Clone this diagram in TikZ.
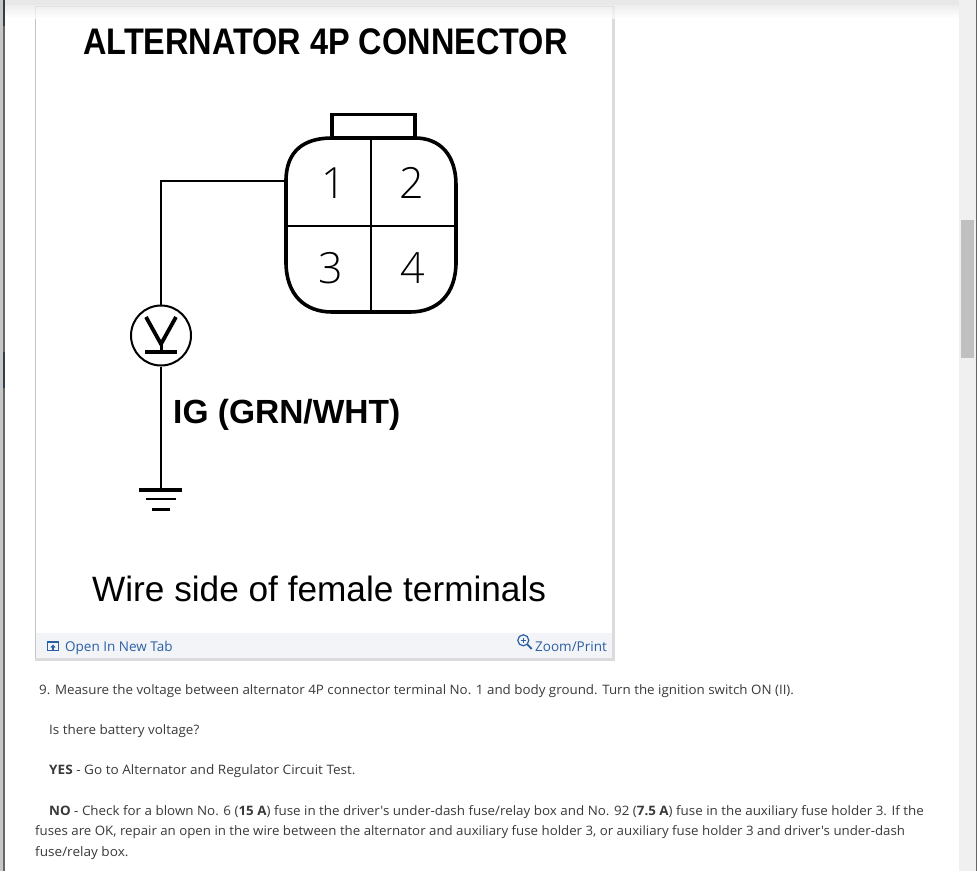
\documentclass[tikz,border=0pt]{standalone}
\usepackage{fontspec}
\setmainfont{Liberation Sans}
\newfontfamily\bodyf{Open Sans}
\newfontfamily\thinf{Open Sans Light}
\definecolor{bodytxt}{HTML}{3A3A3A}
\definecolor{linkblue}{HTML}{2A5FA5}
\definecolor{footbg}{HTML}{F3F4F8}
\definecolor{panelbd}{HTML}{C4C4C4}
\definecolor{sidedark}{HTML}{2D3E4F}
\definecolor{trackgrey}{HTML}{F0F0F0}
\definecolor{thumbgrey}{HTML}{C0C0C0}
\tikzset{
  wire/.style={draw=black,line width=2pt},
  shell/.style={draw=black,line width=3.6pt},
  title/.style={anchor=base west,inner sep=0pt,font=\fontsize{37}{37}\selectfont\bfseries,text=black},
  pin/.style={anchor=center,inner sep=0pt,font=\thinf\fontsize{43}{43}\selectfont,text=black},
  para/.style={anchor=base west,inner sep=0pt,font=\bodyf\fontsize{13}{13}\selectfont,text=bodytxt},
  foot/.style={anchor=base west,inner sep=0pt,font=\bodyf\fontsize{13.5}{13.5}\selectfont,text=linkblue}
}
\begin{document}
\begin{tikzpicture}[x=1pt,y=-1pt]
\useasboundingbox (0,0) rectangle (977,871);
\fill[white] (0,0) rectangle (977,871);
% panel
\fill[black!14] (35,6) rectangle (614.5,661);
\fill[white] (36,7) rectangle (612,658);
\fill[footbg] (36,633) rectangle (612,658);
\fill[panelbd] (35,6) rectangle (36,658);
\fill[panelbd] (35,6) rectangle (613,7);
% chrome
\fill[black!9] (5,0) rectangle (959,5);
\shade[top color=black!9,bottom color=white,opacity=.75] (5,5) rectangle (959,18);
\fill[black!22] (0,0) rectangle (3,871);
\fill[black!60] (3,0) rectangle (5,871);
\fill[sidedark] (3,0) rectangle (5,26);
\fill[sidedark] (3,352) rectangle (5,388);
\fill[trackgrey] (959,0) rectangle (976,871);
\fill[thumbgrey] (961,220) rectangle (974,358);
\fill[black!60] (976,0) rectangle (977,871);
% connector
\draw[shell] (332,138) -- (332,114.5) -- (415,114.5) -- (415,138);
\draw[shell] (286,181) .. controls (286,150) and (305,138) .. (332,138) -- (415,138)
  .. controls (440,138) and (456,155) .. (456,185) -- (456,262)
  .. controls (456,295) and (437,312) .. (410,312) -- (332,312)
  .. controls (305,312) and (286,295) .. (286,262) -- cycle;
\coordinate (top) at (371,138);
\coordinate (bot) at (371,312);
\coordinate (lft) at (286,225.5);
\coordinate (rgt) at (456,225.5);
\coordinate (pin1) at (286,181);
\draw[wire] (top) -- (bot);
\draw[wire] (lft) -- (rgt);
\node[pin] (n1) at (334,183) {1};
\node[pin] (n2) at (412,183) {2};
\node[pin] (n3) at (331,268) {3};
\node[pin] (n4) at (413,268) {4};
% meter
\node[circle,draw=black,line width=2pt,minimum size=60pt,inner sep=0pt] (vm) at (161,335.5) {};
\draw[black,line width=3.8pt] (146,317) -- (161,344) -- (176,317);
\draw[black,line width=4pt] (145,352) -- (177,352);
\draw[black,line width=3pt] (161,344) -- (161,352);
\coordinate (gnd) at (161,489.5);
\draw[wire] (pin1) -- (161,181) -- (vm.north);
\draw[wire] (vm.south) -- (gnd);
\draw[black,line width=4pt] (139,489.5) -- (182,489.5);
\draw[black,line width=2pt] (146,499) -- (176,499);
\draw[black,line width=3pt] (152,509) -- (170,509);
% texts
\node[title,xscale=.877] (ttl) at (83,54) {ALTERNATOR 4P CONNECTOR};
\node[anchor=base west,inner sep=0pt,font=\fontsize{33.5}{33.5}\selectfont\bfseries] (ig) at (173,423) {IG (GRN/WHT)};
\node[anchor=base west,inner sep=0pt,font=\fontsize{35.2}{35.2}\selectfont] (ws) at (92,601) {Wire side of female terminals};
% footer
\draw[linkblue,line width=1pt] (47.5,641) rectangle (58.5,650.5);
\draw[linkblue,line width=2pt] (47.5,641.5) -- (58.5,641.5);
\draw[linkblue,line width=1.2pt] (53,650.5) -- (53,645.5);
\draw[linkblue,line width=1pt] (50.8,647.5) -- (53,645.2) -- (55.2,647.5);
\node[foot] (open) at (65,651) {Open In New Tab};
\draw[linkblue,line width=1.2pt] (523.3,640.3) circle (5.5);
\draw[linkblue,line width=1.8pt] (527.3,644.3) -- (531.7,649);
\draw[linkblue,line width=.9pt] (520.8,640.3) -- (525.8,640.3) (523.3,637.8) -- (523.3,642.8);
\node[foot] (zoom) at (535,651) {Zoom/Print};
% body
\node[para,xscale=1.027] (l1) at (39,694) {9. Measure the voltage between alternator 4P connector terminal No. 1 and body ground. Turn the ignition switch ON (II).};
\node[para,xscale=1.034] (l2) at (49,734) {Is there battery voltage?};
\node[para,xscale=1.044] (l3) at (49,774) {\textbf{YES} - Go to Alternator and Regulator Circuit Test.};
\node[para,xscale=1.03] (l4) at (49,815) {\textbf{NO} - Check for a blown No. 6 (\textbf{15 A}) fuse in the driver's under-dash fuse/relay box and No. 92 (\textbf{7.5 A}) fuse in the auxiliary fuse holder 3. If the};
\node[para,xscale=1.021] (l5) at (35,835) {fuses are OK, repair an open in the wire between the alternator and auxiliary fuse holder 3, or auxiliary fuse holder 3 and driver's under-dash};
\node[para,xscale=1.045] (l6) at (35,856) {fuse/relay box.};
\end{tikzpicture}
\end{document}
